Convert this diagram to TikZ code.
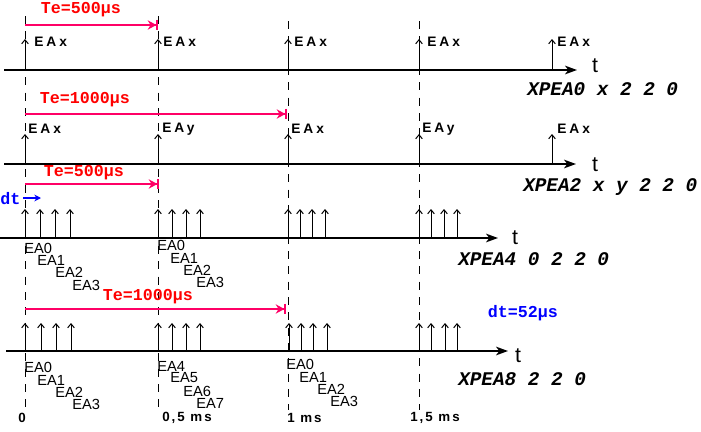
\documentclass[tikz,border=0pt]{standalone}
\usepackage{fontspec}
\setmainfont{Liberation Sans}
\newfontfamily\spaced{Liberation Sans}[LetterSpace=15]
\newfontfamily\wide{Liberation Sans}[LetterSpace=22]
\newfontfamily\monof{Liberation Mono}
\usetikzlibrary{arrows.meta}
\definecolor{tepink}{RGB}{255,0,102}
\definecolor{tered}{RGB}{255,0,0}
\definecolor{dtblue}{RGB}{0,0,255}
\tikzset{
  axisline/.style={line width=1pt,-{Stealth[length=9pt,width=6.5pt,inset=2.5pt]}},
  imp/.style={line width=0.75pt,-{Straight Barb[length=3pt,width=5pt]}},
  guide/.style={line width=0.75pt,dash pattern=on 6pt off 5.5pt},
  tearrow/.style={tepink,line width=1.6pt,-{Stealth[length=6.5pt,width=7pt]Bar[width=8pt,line width=1.2pt]}},
  dtarrow/.style={dtblue,line width=1.5pt,-{Stealth[length=5pt,width=5pt]}},
  telbl/.style={text=tered,font={\monof\bfseries\fontsize{12.5}{14}\selectfont},inner sep=0pt},
  dtlbl/.style={text=dtblue,font={\monof\bfseries\fontsize{12.5}{14}\selectfont},inner sep=0pt},
  xplbl/.style={font={\monof\bfseries\itshape\fontsize{14.5}{16}\selectfont},inner sep=0pt,anchor=west},
  eax/.style={font={\wide\bfseries\fontsize{10.3}{12}\selectfont},inner sep=0pt,anchor=west},
  ean/.style={font={\fontsize{11}{13}\selectfont},inner sep=0pt,anchor=west},
  tlbl/.style={font={\fontsize{16}{18}\selectfont},inner sep=0pt},
  mslbl/.style={font={\spaced\bfseries\fontsize{10}{12}\selectfont},inner sep=0pt,anchor=west}
}
\begin{document}
\begin{tikzpicture}[x=0.75pt,y=-0.75pt]
\useasboundingbox (0,0) rectangle (701,432);
% guide lines
\foreach \gx/\gy [count=\i] in {25/16,158/16,288/21,419/21}{
  \coordinate (gt\i) at (\gx,\gy);
  \coordinate (gb\i) at (\gx,410);
  \draw[guide] (gt\i) -- (gb\i);
}
% axes
\coordinate (a1s) at (4,70);   \coordinate (a1e) at (577,70);
\coordinate (a2s) at (4,164);  \coordinate (a2e) at (576,164);
\coordinate (a3s) at (0,238);  \coordinate (a3e) at (498,238);
\coordinate (a4s) at (6,351);  \coordinate (a4e) at (508,351);
\draw[axisline] (a1s) -- (a1e);
\draw[axisline] (a2s) -- (a2e);
\draw[axisline] (a3s) -- (a3e);
\draw[axisline] (a4s) -- (a4e);
\node[tlbl] (t1) at (595,66) {t};
\node[tlbl] (t2) at (595,165) {t};
\node[tlbl] (t3) at (515,238) {t};
\node[tlbl] (t4) at (518,356) {t};
% row 1 and 2 impulses
\foreach \px [count=\i] in {25,158,288,419,552}{
  \coordinate (r1b\i) at (\px,70); \coordinate (r1t\i) at (\px,39);
  \draw[imp] (r1b\i) -- (r1t\i);
  \coordinate (r2b\i) at (\px,164); \coordinate (r2t\i) at (\px,134);
  \draw[imp] (r2b\i) -- (r2t\i);
}
\node[eax] (e11) at (34,42) {EAx};
\node[eax] (e12) at (163,42) {EAx};
\node[eax] (e13) at (294,42) {EAx};
\node[eax] (e14) at (427,42) {EAx};
\node[eax] (e15) at (557,42) {EAx};
\node[eax] (e21) at (28,129) {EAx};
\node[eax] (e22) at (162,129) {EAy};
\node[eax] (e23) at (291,129) {EAx};
\node[eax] (e24) at (422,129) {EAy};
\node[eax] (e25) at (557,129) {EAx};
% row 3 impulses
\foreach \px [count=\i] in {25,40,55,70,158,172,186,200,288,300,312,325,419,431,444,457}{
  \coordinate (r3b\i) at (\px,238); \coordinate (r3t\i) at (\px,209);
  \draw[imp] (r3b\i) -- (r3t\i);
}
% row 4 impulses
\foreach \px [count=\i] in {25,41,56,71,158,172,186,200,289,301,313,327,419,431,445,457}{
  \coordinate (r4b\i) at (\px,351); \coordinate (r4t\i) at (\px,323);
  \draw[imp] (r4b\i) -- (r4t\i);
}
% row 3 labels
\node[ean] (l30) at (24,248) {EA0};
\node[ean] (l31) at (37,260) {EA1};
\node[ean] (l32) at (55,272) {EA2};
\node[ean] (l33) at (72,285) {EA3};
\node[ean] (l34) at (157,245) {EA0};
\node[ean] (l35) at (170,258) {EA1};
\node[ean] (l36) at (183,270) {EA2};
\node[ean] (l37) at (196,282) {EA3};
% row 4 labels
\node[ean] (l40) at (24,367) {EA0};
\node[ean] (l41) at (37,380) {EA1};
\node[ean] (l42) at (55,392) {EA2};
\node[ean] (l43) at (72,404) {EA3};
\node[ean] (l44) at (157,366) {EA4};
\node[ean] (l45) at (170,378) {EA5};
\node[ean] (l46) at (183,391) {EA6};
\node[ean] (l47) at (196,403) {EA7};
\node[ean] (l48) at (286,364) {EA0};
\node[ean] (l49) at (299,377) {EA1};
\node[ean] (l4a) at (317,389) {EA2};
\node[ean] (l4b) at (330,401) {EA3};
% Te arrows
\coordinate (te1s) at (25,25);  \coordinate (te1e) at (158,25);
\coordinate (te2s) at (25,114); \coordinate (te2e) at (287,114);
\coordinate (te3s) at (25,184); \coordinate (te3e) at (159,184);
\coordinate (te4s) at (25,309); \coordinate (te4e) at (286,309);
\draw[tearrow] (te1s) -- (te1e);
\draw[tearrow] (te2s) -- (te2e);
\draw[tearrow] (te3s) -- (te3e);
\draw[tearrow] (te4s) -- (te4e);
\node[telbl] (tl1) at (81,10) {Te=500µs};
\node[telbl] (tl2) at (85,100) {Te=1000µs};
\node[telbl] (tl3) at (84,173) {Te=500µs};
\node[telbl] (tl4) at (148,297) {Te=1000µs};
% dt
\node[dtlbl,anchor=west] (dt) at (0,199) {dt};
\coordinate (dts) at (23,198);
\coordinate (dte) at (41,198);
\draw[dtarrow] (dts) -- (dte);
\node[dtlbl] (dt52) at (523,313) {dt=52µs};
% XPEA labels
\node[xplbl] (xp0) at (527,89) {XPEA0 x 2 2 0};
\node[xplbl] (xp2) at (523,187) {XPEA2 x y 2 2 0};
\node[xplbl] (xp4) at (458,259) {XPEA4 0 2 2 0};
\node[xplbl] (xp8) at (458,379) {XPEA8 2 2 0};
% time labels
\node[mslbl] (m0) at (18,418) {0};
\node[mslbl] (m1) at (162,418) {0,5 ms};
\node[mslbl] (m2) at (287,418) {1 ms};
\node[mslbl] (m3) at (410,418) {1,5 ms};
\end{tikzpicture}
\end{document}
